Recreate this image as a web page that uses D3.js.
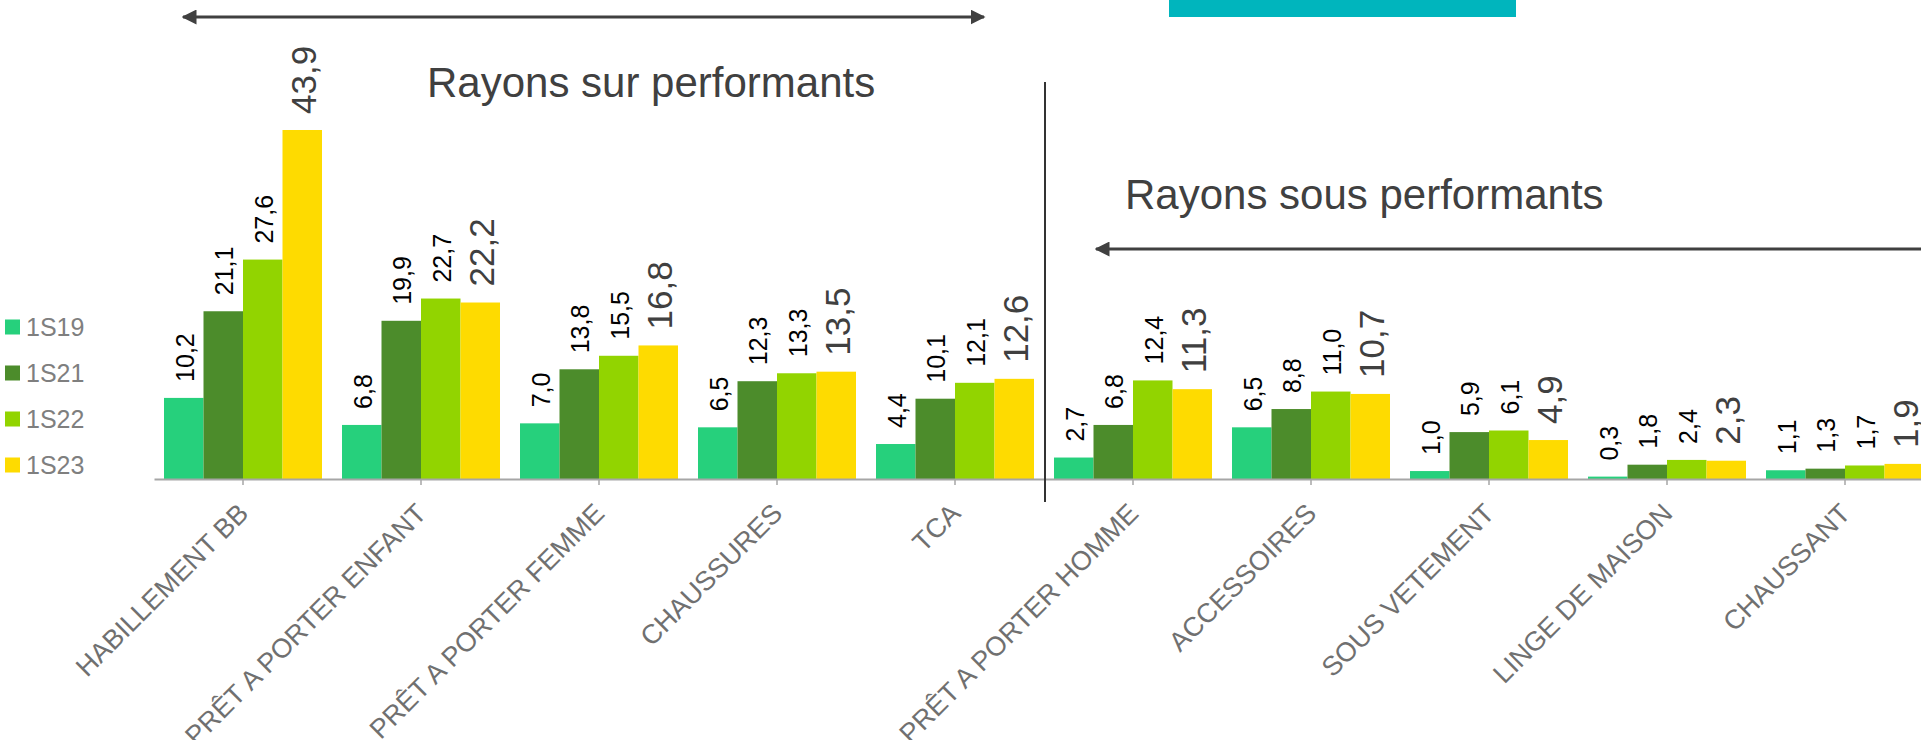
<!DOCTYPE html>
<html>
<head>
<meta charset="utf-8">
<script src="https://cdn.jsdelivr.net/npm/d3@7"></script>
<style>
  body { margin: 0; background: #fff; }
  svg { display: block; font-family: "Liberation Sans", Arial, sans-serif; }
</style>
</head>
<body>
<script>
var W = 1921, H = 740;
var BASE = 479;

var categories = ["HABILLEMENT BB", "PRÊT A PORTER ENFANT", "PRÊT A PORTER FEMME", "CHAUSSURES", "TCA",
                  "PRÊT A PORTER HOMME", "ACCESSOIRES", "SOUS VETEMENT", "LINGE DE MAISON", "CHAUSSANT"];
var seriesNames = ["1S19", "1S21", "1S22", "1S23"];
var v1S19 = [10.2, 6.8, 7.0, 6.5, 4.4, 2.7, 6.5, 1.0, 0.3, 1.1];
var v1S21 = [21.1, 19.9, 13.8, 12.3, 10.1, 6.8, 8.8, 5.9, 1.8, 1.3];
var v1S22 = [27.6, 22.7, 15.5, 13.3, 12.1, 12.4, 11.0, 6.1, 2.4, 1.7];
var v1S23 = [43.9, 22.2, 16.8, 13.5, 12.6, 11.3, 10.7, 4.9, 2.3, 1.9];
var colors = ["#26d07c", "#4c8c2b", "#92d400", "#fedb00"];

var seriesValues = [v1S19, v1S21, v1S22, v1S23];
var fmt = function(v) { return v.toFixed(1).replace(".", ","); };

var svg = d3.select("body").append("svg")
    .attr("width", W)
    .attr("height", H);

var x0 = d3.scaleBand()
    .domain(categories)
    .range([154, 154 + 178 * categories.length])
    .paddingInner(20 / 178)
    .paddingOuter(10 / 178);
var x1 = d3.scaleBand()
    .domain(seriesNames)
    .range([0, x0.bandwidth()]);
var y = d3.scaleLinear()
    .domain([0, 50])
    .range([BASE, BASE - 50 * 7.95]);

// bars
var groups = svg.selectAll(".grp")
    .data(categories).enter()
    .append("g")
    .attr("class", "grp")
    .attr("transform", function(c) { return "translate(" + x0(c) + ",0)"; });

function rows(c, i) {
    return seriesNames.map(function(s, j) {
        return { s: s, j: j, v: seriesValues[j][i] };
    });
}

groups.selectAll("rect")
    .data(rows).enter()
    .append("rect")
    .attr("x", function(d) { return x1(d.s); })
    .attr("width", x1.bandwidth())
    .attr("y", function(d) { return y(d.v); })
    .attr("height", function(d) { return y(0) - y(d.v); })
    .attr("fill", function(d) { return colors[d.j]; });

groups.selectAll(".val")
    .data(rows).enter()
    .append("text")
    .attr("class", "val")
    .attr("transform", function(d) {
        return "translate(" + (x1(d.s) + x1.bandwidth() / 2 + 1) + "," + (y(d.v) - 16) + ") rotate(-90)";
    })
    .attr("text-anchor", "start")
    .attr("dominant-baseline", "central")
    .attr("font-size", function(d) { return d.j == 3 ? 35 : 25; })
    .attr("fill", function(d) { return d.j == 3 ? "#404040" : "#000"; })
    .text(function(d) { return fmt(d.v); });

// x axis
var xAxis = svg.append("g")
    .attr("transform", "translate(0," + BASE + ")")
    .call(d3.axisBottom(x0).tickSize(6).tickSizeOuter(0));
xAxis.select(".domain").attr("stroke", "#a6a6a6").attr("stroke-width", 2);
xAxis.selectAll(".tick line").attr("stroke", "#a6a6a6").attr("stroke-width", 1.5);
xAxis.selectAll(".tick text")
    .attr("x", 0).attr("y", 0).attr("dy", 0)
    .attr("text-anchor", "end")
    .attr("transform", "translate(7,36) rotate(-45)")
    .attr("font-size", 27)
    .attr("font-family", "Liberation Sans, Arial, sans-serif")
    .attr("fill", "#707070");

// legend
var legend = svg.selectAll(".leg")
    .data(seriesNames).enter()
    .append("g")
    .attr("class", "leg")
    .attr("transform", function(s, i) { return "translate(5," + (327 + i * 46) + ")"; });
legend.append("rect")
    .attr("x", 0).attr("y", -7.5)
    .attr("width", 15).attr("height", 15)
    .attr("fill", function(s, i) { return colors[i]; });
legend.append("text")
    .attr("x", 21).attr("y", 9)
    .attr("font-size", 25)
    .attr("fill", "#7f7f7f")
    .text(function(s) { return s; });

// annotations
var defs = svg.append("defs");
defs.append("marker")
    .attr("id", "head")
    .attr("viewBox", "0 0 10 10")
    .attr("refX", 9).attr("refY", 5)
    .attr("markerWidth", 5).attr("markerHeight", 5)
    .attr("orient", "auto-start-reverse")
    .append("path")
    .attr("d", "M0,0 L10,5 L0,10 Z")
    .attr("fill", "#404040");

svg.append("line")
    .attr("x1", 183).attr("y1", 17).attr("x2", 984).attr("y2", 17)
    .attr("stroke", "#404040").attr("stroke-width", 3)
    .attr("marker-start", "url(#head)")
    .attr("marker-end", "url(#head)");

svg.append("line")
    .attr("x1", 1096).attr("y1", 249).attr("x2", 1930).attr("y2", 249)
    .attr("stroke", "#404040").attr("stroke-width", 3)
    .attr("marker-start", "url(#head)");

svg.append("rect")
    .attr("x", 1169).attr("y", 0)
    .attr("width", 347).attr("height", 17)
    .attr("fill", "#00b5bd");

svg.append("line")
    .attr("x1", 1045).attr("y1", 82).attr("x2", 1045).attr("y2", 502)
    .attr("stroke", "#333").attr("stroke-width", 2);

svg.append("text")
    .attr("x", 427).attr("y", 97)
    .attr("font-size", 42)
    .attr("fill", "#404040")
    .text("Rayons sur performants");

svg.append("text")
    .attr("x", 1125).attr("y", 209)
    .attr("font-size", 42)
    .attr("fill", "#404040")
    .text("Rayons sous performants");
</script>
</body>
</html>
